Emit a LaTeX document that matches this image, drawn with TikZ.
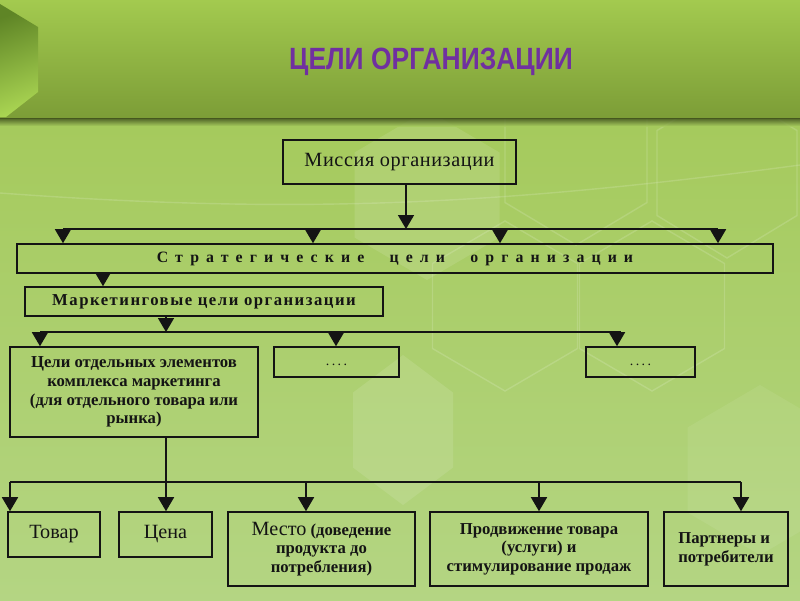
\documentclass[tikz,border=0pt]{standalone}
\usepackage{fontspec}
\setmainfont{Liberation Serif}
\newfontfamily\titlefont{Liberation Sans}
\usetikzlibrary{arrows.meta,calc}
\definecolor{titlepurple}{HTML}{7030A0}
\definecolor{bgtop}{HTML}{A5CA5C}
\definecolor{bgbot}{HTML}{B4D583}
\definecolor{bantop}{HTML}{A3CA4F}
\definecolor{banbot}{HTML}{7C9D37}
\definecolor{hexdark}{HTML}{5F8526}
\definecolor{hexlight}{HTML}{A9D452}
\definecolor{ink}{HTML}{141414}
\newcommand{\myhexpath}[4]{(#1,#2-#4/2) -- (#1+#3/2,#2-#4/4) -- (#1+#3/2,#2+#4/4) -- (#1,#2+#4/2) -- (#1-#3/2,#2+#4/4) -- (#1-#3/2,#2-#4/4) -- cycle}
\tikzset{
  box/.style={draw=ink, line width=0.9pt, inner sep=1pt, align=center, text=ink},
  conn/.style={line width=0.9pt, draw=ink},
  arr/.style={conn, -{Triangle[width=0.32cm,length=0.28cm]}},
  hexline/.style={draw=white, draw opacity=0.15, line width=0.8pt},
  hexfill/.style={fill=white, fill opacity=0.11},
  smalltxt/.style={font=\fontsize{9.5}{10.6}\selectfont\bfseries},
}
\begin{document}
\begin{tikzpicture}[x=0.02cm,y=-0.02cm]
\useasboundingbox (0,0) rectangle (800,600);
% background
\shade[top color=bgtop, bottom color=bgbot] (0,118) rectangle (800,600);
% decorative hexagons
\fill[hexfill] \myhexpath{427}{195}{145}{170};
\fill[hexfill] \myhexpath{403}{430}{100}{150};
\fill[hexfill, fill opacity=0.07] \myhexpath{760}{470}{145}{170};
\draw[hexline] \myhexpath{576}{160}{142}{170};
\draw[hexline] \myhexpath{727}{173}{140}{170};
\draw[hexline] \myhexpath{652}{306}{145}{170};
\draw[hexline] \myhexpath{505}{306}{145}{170};
\draw[hexline] (0,193) .. controls (300,215) and (500,205) .. (800,165);
% banner
\shade[top color=bantop, bottom color=banbot] (0,0) rectangle (800,118);
\shade[top color=black!55!banbot, bottom color=bgtop, opacity=0.8] (0,118) rectangle (800,126);
\shade[top color=hexdark, bottom color=hexlight, shading angle=20] (0,4) -- (38,27) -- (38,92) -- (6,117) -- (0,117) -- cycle;
\node[text=titlepurple, font=\titlefont\bfseries\fontsize{17.5}{19}\selectfont, xscale=0.86] (title) at (431,62) {ЦЕЛИ ОРГАНИЗАЦИИ};

% boxes
\node[box, minimum width=4.66cm, minimum height=0.88cm, font=\fontsize{11.5}{13}\selectfont\addfontfeature{LetterSpace=3}] (mission) at (399.5,162) {Миссия организации};
\node[box, minimum width=15.12cm, minimum height=0.58cm, font=\fontsize{9}{10}\selectfont\bfseries\addfontfeature{LetterSpace=45}] (strat) at (395,258.5) {Стратегические\hspace{1.6em}цели\hspace{1.6em}организации};
\node[box, minimum width=7.16cm, minimum height=0.58cm, font=\fontsize{9.5}{10}\selectfont\bfseries\addfontfeature{LetterSpace=9}] (mark) at (204,301.5) {Маркетинговые цели организации};
\node[box, minimum width=4.96cm, minimum height=1.8cm, smalltxt] (elem) at (134,392) {Цели отдельных элементов\\комплекса маркетинга\\(для отдельного товара или\\рынка)};
\node[box, minimum width=2.5cm, minimum height=0.6cm, font=\fontsize{8}{9}\selectfont] (dotsa) at (336.5,362) {\vphantom{Ц}.\,.\,.\,.};
\node[box, minimum width=2.18cm, minimum height=0.6cm, font=\fontsize{8}{9}\selectfont] (dotsb) at (640.5,362) {\vphantom{Ц}.\,.\,.\,.};
\node[box, minimum width=1.84cm, minimum height=0.9cm, font=\fontsize{11.5}{13}\selectfont] (tovar) at (54,534.5) {Товар};
\node[box, minimum width=1.86cm, minimum height=0.9cm, font=\fontsize{11.5}{13}\selectfont] (tsena) at (165.5,534.5) {Цена};
\node[box, minimum width=3.74cm, minimum height=1.48cm, smalltxt] (mesto) at (321.5,549) {{\mdseries\fontsize{11.5}{10.6}\selectfont Место} (доведение\\продукта до\\потребления)};
\node[box, minimum width=4.36cm, minimum height=1.48cm, smalltxt] (prod) at (539,549) {Продвижение товара\\(услуги) и\\стимулирование продаж};
\node[box, minimum width=2.48cm, minimum height=1.48cm, smalltxt, align=left] (partn) at (726,549) {Партнеры и\\потребители};

% bus coordinates
\coordinate (b1l) at (63,229);
\coordinate (b1a) at (313,229);
\coordinate (b1m) at (406,229);
\coordinate (b1b) at (500,229);
\coordinate (b1r) at (718,229);
\coordinate (s1) at (103,0);
\coordinate (b2l) at (40,332);
\coordinate (b2m) at (166,332);
\coordinate (b2a) at (336,332);
\coordinate (b2b) at (617,332);
\coordinate (b2r) at (621,332);
\coordinate (b3l) at (10,482);
\coordinate (b3m) at (166,482);
\coordinate (b3a) at (306,482);
\coordinate (b3b) at (539,482);
\coordinate (b3r) at (741,482);

% connectors
\draw[arr] (mission.south -| b1m) -- (b1m);
\draw[conn] (b1l) -- (b1r);
\foreach \c in {b1l,b1a,b1b,b1r} \draw[arr] (\c) -- (\c |- strat.north);
\draw[arr] (strat.south -| s1) -- (s1 |- mark.north);
\draw[arr] (mark.south -| b2m) -- (b2m);
\draw[conn] (b2l) -- (b2r);
\draw[arr] (b2l) -- (b2l |- elem.north);
\draw[arr] (b2a) -- (b2a |- dotsa.north);
\draw[arr] (b2b) -- (b2b |- dotsb.north);
\draw[conn] (elem.south -| b3m) -- (b3m);
\draw[conn] (b3l) -- (b3r);
\draw[arr] (b3l) -- (b3l |- tovar.north);
\draw[arr] (b3m) -- (b3m |- tsena.north);
\draw[arr] (b3a) -- (b3a |- mesto.north);
\draw[arr] (b3b) -- (b3b |- prod.north);
\draw[arr] (b3r) -- (b3r |- partn.north);
\end{tikzpicture}
\end{document}
